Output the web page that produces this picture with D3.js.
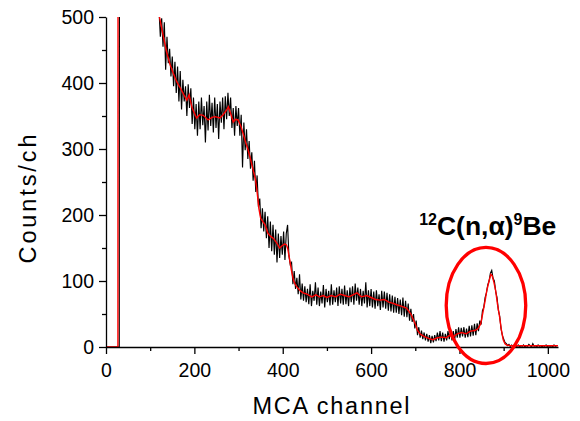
<!DOCTYPE html>
<html><head><meta charset="utf-8">
<script src="https://cdn.jsdelivr.net/npm/d3@7"></script>
<style>body{margin:0;background:#fff}svg{display:block}</style>
</head><body>
<svg id="c" width="580" height="421"></svg>
<script>
// ---- data ----
const blackFirstChannel = 0;
const blackChannelStep = 3;
const blackCounts = [
  0,0,0,0,0,0,0,0,0,0,0,
  4200,3800,3500,3200,2900,2600,2400,2200,2000,1850,1700,1560,1430,1320,1210,1120,1030,960,890,830,780,730,690,650,615,585,560,540,525,
  510,470,498,455,492,420,470,430,452,410,
  440,395,432,385,425,372,418,360,405,372,
  395,350,398,362,392,338,378,330,368,320,
  372,330,378,336,365,310,372,328,382,335,
  370,325,378,332,368,315,372,340,378,330,
  380,345,385,350,378,332,362,320,365,335,
  362,320,352,272,340,298,330,285,312,270,
  295,252,282,235,260,212,225,180,210,175,
  205,165,198,150,190,145,185,140,178,128,
  172,135,168,140,175,132,172,185,138,125,
  128,95,115,88,105,80,110,72,96,70,
  92,68,88,65,95,62,85,70,98,64,
  90,62,84,66,94,60,88,68,85,63,
  95,64,86,68,90,62,92,66,88,64,
  93,65,86,62,90,68,92,64,96,70,
  90,64,88,62,85,66,98,60,86,62,
  88,60,84,58,86,62,80,56,85,60,
  84,58,82,55,80,54,78,52,76,52,
  74,50,72,48,75,46,70,45,66,40,
  58,38,50,28,40,18,30,14,25,12,
  22,10,20,8,18,6,17,7,18,9,
  22,10,24,9,22,8,20,10,24,12,
  26,10,24,10,27,14,30,14,29,16,
  30,14,28,15,32,16,33,17,35,18,
  36,24,40,34,55,60,75,82,94,100,
  112,116,104,100,84,75,56,47,28,18,
  12,7,5,2,4,1,3,1,3,2,
  1,3,0,2,1,3,0,2,1,4,
  2,0,5,1,2,0,3,1,2,0,
  2,1,3,0,2,1,2,0,3,1,
  2
];
const redChannels = [0,27,28,60,100,115,121,130,138,145,152,160,171,178,183,188,195,205,212,220,231,240,247,258,265,272,277,283,288,293,299,305,311,316,321,327,333,338,342,346,350,355,360,366,372,378,382,388,393,398,404,408,411,415,420,424,428,432,440,446,455,466,475,483,492,500,510,520,530,540,550,559,568,578,590,600,610,620,630,640,650,658,668,680,690,700,705,712,720,730,740,750,760,770,778,785,795,805,815,825,835,842,848,853,858,862,867,871,874,878,882,886,891,895,899,903,907,915,1023];
const redCounts   = [0,0,2600,1500,700,530,500,470,445,428,415,402,389,380,374,382,362,347,352,351,344,348,349,347,352,358,364,352,341,345,344,335,322,310,300,285,268,255,235,210,195,190,185,173,168,165,162,156,150,153,156,155,150,135,115,102,95,91,85,82,80,76,79,76,78,75,78,76,80,78,76,79,82,76,78,75,72,71,72,68,66,64,62,59,50,35,25,19,16,13,11,14,15,14,18,15,20,22,20,24,25,28,35,52,70,86,100,110,108,98,85,65,45,25,11,5,3,2,2];
const xMajorTicks = [0,200,400,600,800,1000];
const xMinorTicks = [100,300,500,700,900];
const yMajorTicks = [0,100,200,300,400,500];
const yMinorTicks = [50,150,250,350,450];
const xDomain = [0,1023];
const yDomain = [0,500];
const xTitle = "MCA channel";
const yTitle = "Counts/ch";
const annoParts = [["12",true],["C(n,α)",false],["9",true],["Be",false]];
const annoAt = {channel:864, counts:170};
const ellipseAt = {channel:860, counts:63, rChannels:90, rCounts:88};

// ---- drawing ----
const svg = d3.select("#c");
const L=106, R=558, T=17, B=347;
const x = d3.scaleLinear().domain(xDomain).range([L,R]);
const y = d3.scaleLinear().domain(yDomain).range([B,T]);
const font = "'Liberation Sans', Arial, sans-serif";

svg.append("defs").append("clipPath").attr("id","clip")
  .append("rect").attr("x",L).attr("y",T).attr("width",R-L+2).attr("height",B-T+1);

const blackData = blackCounts.map((v,i)=>[blackFirstChannel+i*blackChannelStep, v]);
const redData = redChannels.map((c,i)=>[c, redCounts[i]]);
const line = d3.line().x(d=>x(d[0])).y(d=>y(d[1]));

const g = svg.append("g").attr("clip-path","url(#clip)");
g.append("path").datum(blackData).attr("d",line)
  .attr("fill","none").attr("stroke","#000").attr("stroke-width",1.15);
g.append("path").datum(redData).attr("d",line)
  .attr("fill","none").attr("stroke","#ff0000").attr("stroke-width",1.4);

// axes
function styleAxis(sel){
  sel.selectAll("path,line").attr("stroke","#000").attr("stroke-width",1.3);
  sel.selectAll("text").attr("font-family",font).attr("font-size",19.5).attr("fill","#000");
}
const xAx = svg.append("g").attr("transform",`translate(0,${B})`)
  .call(d3.axisBottom(x).tickValues(xMajorTicks).tickSize(7).tickSizeOuter(0).tickPadding(9).tickFormat(d3.format("d")));
styleAxis(xAx);
svg.append("g").attr("transform",`translate(0,${B})`)
  .call(d3.axisBottom(x).tickValues(xMinorTicks).tickSize(4).tickSizeOuter(0).tickFormat(""))
  .call(s=>{s.select(".domain").remove(); s.selectAll("line").attr("stroke","#000").attr("stroke-width",1.3);});
const yAx = svg.append("g").attr("transform",`translate(${L},0)`)
  .call(d3.axisLeft(y).tickValues(yMajorTicks).tickSize(7).tickSizeOuter(0).tickPadding(5).tickFormat(d3.format("d")));
styleAxis(yAx);
svg.append("g").attr("transform",`translate(${L},0)`)
  .call(d3.axisLeft(y).tickValues(yMinorTicks).tickSize(4).tickSizeOuter(0).tickFormat(""))
  .call(s=>{s.select(".domain").remove(); s.selectAll("line").attr("stroke","#000").attr("stroke-width",1.3);});

// titles
svg.append("text").attr("x",(L+R)/2-1).attr("y",414).attr("text-anchor","middle")
  .attr("font-family",font).attr("font-size",23.5).attr("textLength",157).attr("lengthAdjust","spacing")
  .text(xTitle);
svg.append("text").attr("transform",`translate(36,${(T+B)/2+17}) rotate(-90)`).attr("text-anchor","middle")
  .attr("font-family",font).attr("font-size",23.5).attr("textLength",129).attr("lengthAdjust","spacing")
  .text(yTitle);

// annotation
svg.append("ellipse")
  .attr("cx",x(ellipseAt.channel)).attr("cy",y(ellipseAt.counts))
  .attr("rx",x(ellipseAt.rChannels)-x(0)).attr("ry",y(0)-y(ellipseAt.rCounts))
  .attr("fill","none").attr("stroke","#ff0000").attr("stroke-width",3.3);
const t = svg.append("text").attr("x",x(annoAt.channel)).attr("y",y(annoAt.counts))
  .attr("text-anchor","middle").attr("font-family",font).attr("font-weight","bold").attr("font-size",26.5);
let prevSup=false;
annoParts.forEach(([s,sup])=>{
  const ts=t.append("tspan").text(s);
  if(sup){ts.attr("font-size",16).attr("dy",prevSup?0:-10);}
  else{ts.attr("dy",prevSup?10:0);}
  prevSup=sup;
});
</script>
</body></html>
